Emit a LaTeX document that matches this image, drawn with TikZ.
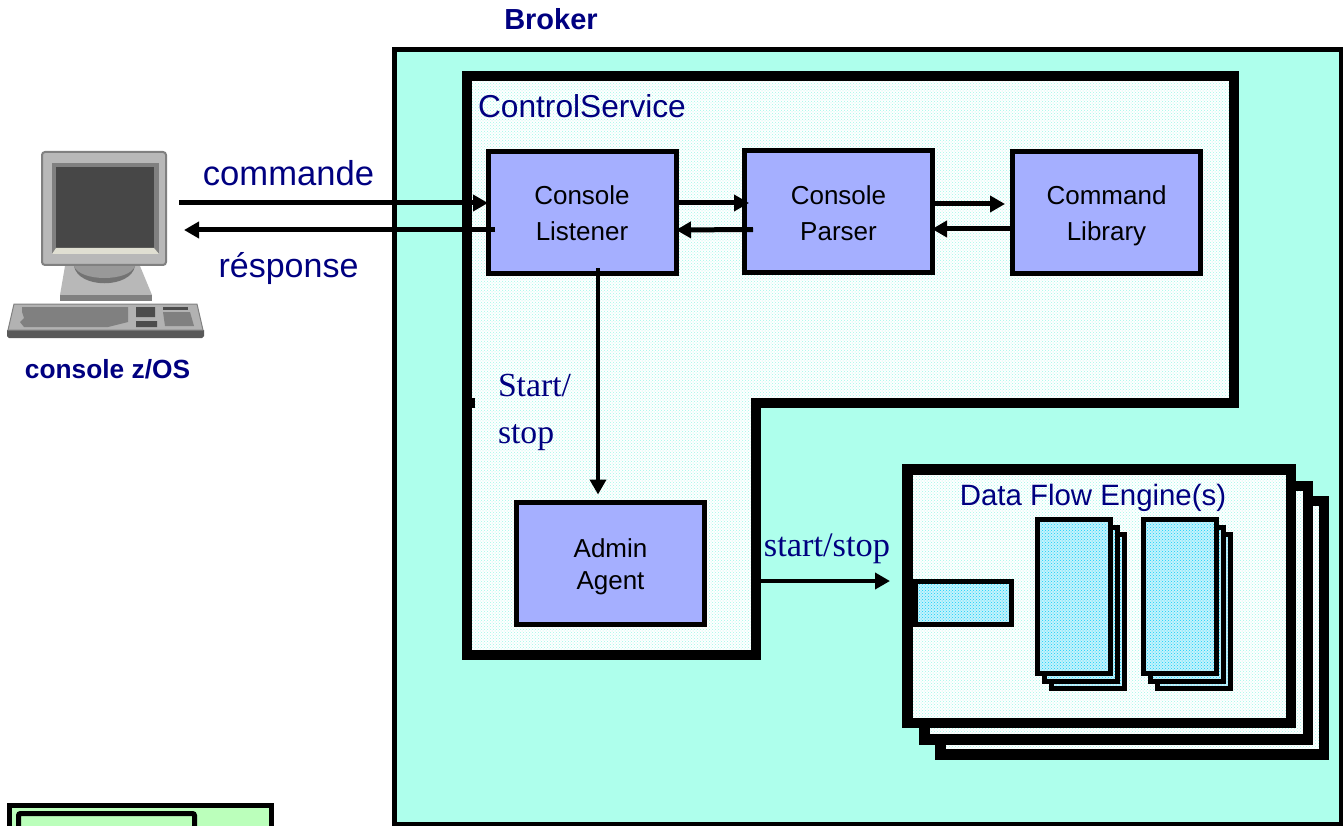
\documentclass[tikz,border=0pt]{standalone}
\usepackage{fontspec}
\usepackage{tikz}
\usetikzlibrary{arrows.meta,patterns}
\setmainfont{Liberation Sans}
\newfontfamily\serifnavy{Liberation Serif}
\definecolor{navytext}{HTML}{000080}
\definecolor{brokerfill}{HTML}{AEFFEC}
\definecolor{servicedots}{HTML}{A0F8E8}
\definecolor{boxfill}{HTML}{A5AFFF}
\definecolor{stackbase}{HTML}{C4F2FC}
\definecolor{stackdots}{HTML}{10D0F8}
\definecolor{legendfill}{HTML}{BBFFBB}
\tikzset{
    servicefill/.style={preaction={fill=white},pattern=crosshatch dots,pattern color=servicedots},
    stackfill/.style={preaction={fill=stackbase},pattern=crosshatch dots,pattern color=stackdots},
    modulebox/.style={draw=black,line width=5pt,fill=boxfill,minimum width=188pt,minimum height=122pt,
        outer sep=0pt,inner sep=0pt},
    boxtext/.style={align=center,inner sep=0pt,font=\fontsize{26}{36}\selectfont},
    enginebox/.style={draw=black,line width=10.5pt,servicefill,outer sep=0pt,inner sep=0pt,
        minimum width=383.5pt,minimum height=253.5pt},
    stackbox/.style={draw=black,line width=5pt,stackfill,outer sep=0pt,inner sep=0pt,
        minimum width=73pt,minimum height=154pt},
    bigarrow/.style={-{Triangle[length=15pt,width=16pt]},line width=5pt},
    thinarrow/.style={-{Triangle[length=15pt,width=16pt]},line width=4.5pt},
    navylabel/.style={text=navytext,anchor=base,inner sep=0pt,outer sep=0pt},
}
\begin{document}
\begin{tikzpicture}[x=1pt,y=-1pt]
    \useasboundingbox (0,0) rectangle (1343,826);
    \clip (0,0) rectangle (1343,826);

    % Broker
    \draw[line width=5pt,fill=brokerfill] (394.5,49.5) rectangle (1341,824);
    \node[navylabel,font=\bfseries\fontsize{29}{29}\selectfont] (brokerlabel) at (551,30) {Broker};

    % ControlService
    \draw[line width=10pt,servicefill,line join=miter]
        (467,76) -- (1234,76) -- (1234,403) -- (756,403) -- (756,655) -- (467,655) -- cycle;
    \draw[line width=10pt] (462,403) -- (475,403);
    \node[navylabel,anchor=base west,font=\fontsize{31.7}{32}\selectfont] (servicelabel) at (478,118) {ControlService};

    % modules
    \node[modulebox] (listener) at (582,212.3) {};
    \node[modulebox] (parser) at (838,211.5) {};
    \node[modulebox] (library) at (1106,212.5) {};
    \node[modulebox] (admin) at (610,563.5) {};
    \node[boxtext] (listenertext) at (582,213.3) {Console\\Listener};
    \node[boxtext] (parsertext) at (838.5,213) {Console\\Parser};
    \node[boxtext] (librarytext) at (1106.5,216) {Command\\Library};
    \node[boxtext,font=\fontsize{26}{32}\selectfont] (admintext) at (610.5,566.5) {Admin\\Agent};

    % Data Flow Engine(s)
    \node[enginebox] (engineC) at (1132,627.5) {};
    \node[enginebox] (engineB) at (1116,612.5) {};
    \node[enginebox] (engineA) at (1099,596) {};
    \node[navylabel,font=\fontsize{29.4}{30}\selectfont] (enginelabel) at (1093,505) {Data Flow Engine(s)};
    \node[stackbox,minimum width=96pt,minimum height=43pt] (input) at (963.5,603) {};
    \foreach \sx/\nm in {1074/first,1180/second}{
        \node[stackbox] (\nm C) at (\sx+14,611.5) {};
        \node[stackbox] (\nm B) at (\sx+7,604) {};
        \node[stackbox] (\nm A) at (\sx,596.5) {};
    }

    % console
    \fill[black!65] (7,330) -- (204,330) -- (204,336) -- (202,338) -- (9,338) -- (7,336) -- cycle;
    \draw[line width=1pt,fill=black!30,draw=black!50] (14,304) -- (197,304) -- (203,330) -- (8,330) -- cycle;
    \fill[black!50] (22,307) -- (128,307) -- (128,322) -- (108,327) -- (24,327) -- (20,322) -- (24,318) -- (22,312) -- cycle;
    \fill[black!70] (136,307) rectangle (155,317) (136,321) rectangle (157,327);
    \fill[black!70] (163,307) rectangle (188,310);
    \fill[black!50] (163,312) -- (190,312) -- (194,326) -- (165,326) -- cycle;
    \fill[black!28] (65,266) -- (140,266) -- (152,295) -- (60,295) -- cycle;
    \fill[black!50] (60,295) rectangle (152,301);
    \fill[black!55] (74,266) .. controls (78,289) and (131,289) .. (135,266) -- cycle;
    \fill[black!40] (74,266) .. controls (80,282) and (129,282) .. (135,266) -- cycle;
    \draw[line width=2pt,draw=black!50,fill=black!28,rounded corners=3pt] (42,152) rectangle (166,265);
    \fill[black!50] (52,163) rectangle (159,254);
    \fill[black!72] (56,167) rectangle (154,248);
    \fill[yellow!30!black!20] (56,248) -- (154,248) -- (159,254) -- (52,254) -- cycle;
    \node[navylabel,font=\bfseries\fontsize{26.3}{27}\selectfont] (consolelabel) at (107.5,378) {console z/OS};

    % free ends
    \coordinate (consoleout) at (179,203);
    \coordinate (consolein) at (184,230);
    \coordinate (serviceedge) at (761,581);
    \coordinate (enginein) at (890,581);

    % commande / response
    \draw[bigarrow] (consoleout) -- ([yshift=9.3pt]listener.west);
    \draw[bigarrow] ([xshift=7pt,yshift=-17.7pt]listener.west) -- (consolein);
    \node[navylabel,font=\fontsize{34.6}{35}\selectfont] (commandlabel) at (288.5,186) {commande};
    \node[navylabel,font=\fontsize{34}{35}\selectfont] (responselabel) at (288.5,277) {résponse};

    % between the modules
    \draw[bigarrow] ([yshift=9.3pt]listener.east) -- ([xshift=5pt,yshift=8.5pt]parser.west);
    \draw[bigarrow] ([xshift=9pt,yshift=-18pt]parser.west) -- ([yshift=-17.7pt]listener.east);
    \draw[bigarrow] ([yshift=7.5pt]parser.east) -- ([xshift=-7pt,yshift=8.5pt]library.west);
    \draw[bigarrow] ([yshift=-16.5pt]library.west) -- ([yshift=-17.5pt]parser.east);

    % start/stop
    \draw[thinarrow] ([xshift=16pt,yshift=5pt]listener.south) -- ([xshift=-12pt,yshift=8pt]admin.north);
    \node[navylabel,anchor=base west,font=\serifnavy\fontsize{33.7}{34}\selectfont] (startlabel) at (498,396) {Start/};
    \node[navylabel,anchor=base west,font=\serifnavy\fontsize{33.7}{34}\selectfont] (stoplabel) at (498,443) {stop};
    \draw[thinarrow] (serviceedge) -- (enginein);
    \node[navylabel,font=\serifnavy\fontsize{34.4}{35}\selectfont] (enginestart) at (827,556) {start/stop};

    % legend (cut off)
    \draw[line width=5pt,fill=legendfill] (9.5,805) rectangle (271,840);
    \draw[line width=5pt,fill=legendfill,rounded corners=2pt] (18.5,813.5) rectangle (194.5,840);
\end{tikzpicture}
\end{document}
